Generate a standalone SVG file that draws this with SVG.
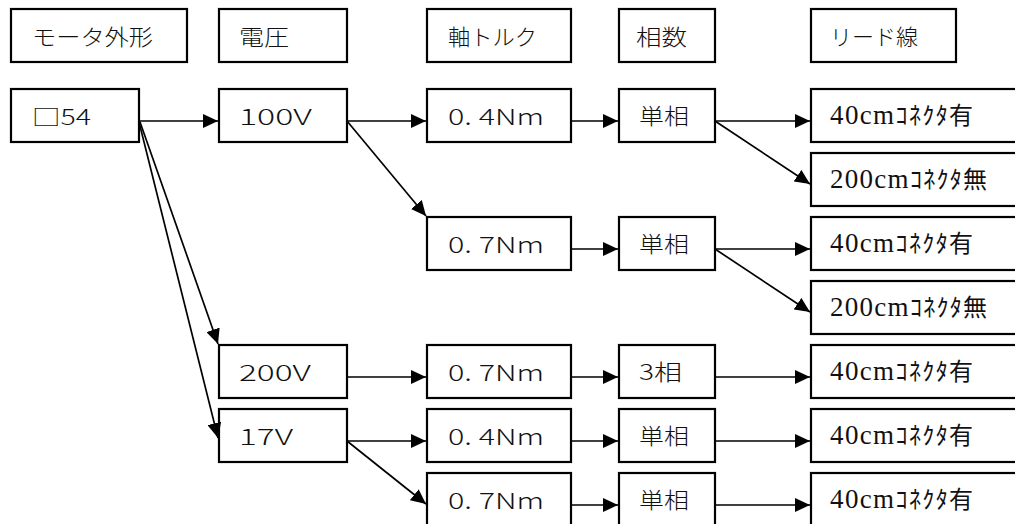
<svg xmlns="http://www.w3.org/2000/svg" width="1015" height="524" viewBox="0 0 1015 524">
<style>
.box{fill:#fff;stroke:#000;stroke-width:2.2}
.t{font-family:"Noto Sans CJK JP","Liberation Sans",sans-serif;font-size:22px;font-weight:300;fill:#111}
.s{font-size:27px;fill:#111}
.s .a{font-family:"Liberation Serif",serif}
.s .k{font-family:"Noto Sans CJK JP",sans-serif;font-size:24px;font-weight:400}
.c line{stroke:#000;stroke-width:1.7;marker-end:url(#ah)}
</style>
<defs>
<marker id="ah" markerUnits="userSpaceOnUse" markerWidth="16" markerHeight="14" refX="15" refY="7" orient="auto">
<path d="M0,0 L15,7 L0,14 z" fill="#000"/>
</marker>
</defs>
<rect width="1015" height="524" fill="#fff"/>
<g id="h1"><rect class="box" x="11" y="9" width="176" height="53"/><text class="t" x="32" y="45" textLength="121" lengthAdjust="spacingAndGlyphs">モータ外形</text></g>
<g id="h2"><rect class="box" x="219" y="9" width="128" height="53"/><text class="t" x="239" y="45" textLength="50" lengthAdjust="spacingAndGlyphs">電圧</text></g>
<g id="h3"><rect class="box" x="427" y="9" width="144" height="53"/><text class="t" x="448" y="45" textLength="89" lengthAdjust="spacingAndGlyphs">軸トルク</text></g>
<g id="h4"><rect class="box" x="619" y="9" width="96" height="53"/><text class="t" x="636" y="45" textLength="51" lengthAdjust="spacingAndGlyphs">相数</text></g>
<g id="h5"><rect class="box" x="811" y="9" width="145" height="53"/><text class="t" x="830" y="45" textLength="88" lengthAdjust="spacingAndGlyphs">リード線</text></g>

<g id="n54"><rect class="box" x="11" y="89" width="128" height="53"/><text class="t" x="32" y="125" textLength="59" lengthAdjust="spacingAndGlyphs">□54</text></g>
<g id="v100"><rect class="box" x="219" y="89" width="128" height="53"/><text class="t" x="239" y="125" textLength="73" lengthAdjust="spacingAndGlyphs">100V</text></g>
<g id="v200"><rect class="box" x="219" y="345" width="128" height="53"/><text class="t" x="239" y="381" textLength="72" lengthAdjust="spacingAndGlyphs">200V</text></g>
<g id="v17"><rect class="box" x="219" y="409" width="128" height="53"/><text class="t" x="239" y="445" textLength="54" lengthAdjust="spacingAndGlyphs">17V</text></g>

<g id="t1"><rect class="box" x="427" y="89" width="144" height="53"/><text class="t" x="448" y="125" textLength="96" lengthAdjust="spacingAndGlyphs">0. 4Nm</text></g>
<g id="t2"><rect class="box" x="427" y="217" width="144" height="53"/><text class="t" x="448" y="253" textLength="96" lengthAdjust="spacingAndGlyphs">0. 7Nm</text></g>
<g id="t3"><rect class="box" x="427" y="345" width="144" height="53"/><text class="t" x="448" y="381" textLength="96" lengthAdjust="spacingAndGlyphs">0. 7Nm</text></g>
<g id="t4"><rect class="box" x="427" y="409" width="144" height="53"/><text class="t" x="448" y="445" textLength="96" lengthAdjust="spacingAndGlyphs">0. 4Nm</text></g>
<g id="t5"><rect class="box" x="427" y="473" width="144" height="53"/><text class="t" x="448" y="509" textLength="96" lengthAdjust="spacingAndGlyphs">0. 7Nm</text></g>

<g id="p1"><rect class="box" x="619" y="89" width="96" height="53"/><text class="t" x="639" y="124" textLength="50" lengthAdjust="spacingAndGlyphs">単相</text></g>
<g id="p2"><rect class="box" x="619" y="217" width="96" height="53"/><text class="t" x="639" y="252" textLength="50" lengthAdjust="spacingAndGlyphs">単相</text></g>
<g id="p3"><rect class="box" x="619" y="345" width="96" height="53"/><text class="t" x="639" y="380" textLength="43" lengthAdjust="spacingAndGlyphs">3相</text></g>
<g id="p4"><rect class="box" x="619" y="409" width="96" height="53"/><text class="t" x="639" y="444" textLength="50" lengthAdjust="spacingAndGlyphs">単相</text></g>
<g id="p5"><rect class="box" x="619" y="473" width="96" height="53"/><text class="t" x="639" y="508" textLength="50" lengthAdjust="spacingAndGlyphs">単相</text></g>

<g id="l1"><rect class="box" x="811" y="89" width="215" height="53"/><text class="s" x="830" y="124" textLength="143" lengthAdjust="spacing"><tspan class="a">40cm</tspan><tspan class="k">ｺﾈｸﾀ有</tspan></text></g>
<g id="l2"><rect class="box" x="811" y="153" width="215" height="53"/><text class="s" x="830" y="188" textLength="157" lengthAdjust="spacing"><tspan class="a">200cm</tspan><tspan class="k">ｺﾈｸﾀ無</tspan></text></g>
<g id="l3"><rect class="box" x="811" y="217" width="215" height="53"/><text class="s" x="830" y="252" textLength="143" lengthAdjust="spacing"><tspan class="a">40cm</tspan><tspan class="k">ｺﾈｸﾀ有</tspan></text></g>
<g id="l4"><rect class="box" x="811" y="281" width="215" height="53"/><text class="s" x="830" y="316" textLength="157" lengthAdjust="spacing"><tspan class="a">200cm</tspan><tspan class="k">ｺﾈｸﾀ無</tspan></text></g>
<g id="l5"><rect class="box" x="811" y="345" width="215" height="53"/><text class="s" x="830" y="380" textLength="143" lengthAdjust="spacing"><tspan class="a">40cm</tspan><tspan class="k">ｺﾈｸﾀ有</tspan></text></g>
<g id="l6"><rect class="box" x="811" y="409" width="215" height="53"/><text class="s" x="830" y="444" textLength="143" lengthAdjust="spacing"><tspan class="a">40cm</tspan><tspan class="k">ｺﾈｸﾀ有</tspan></text></g>
<g id="l7"><rect class="box" x="811" y="473" width="215" height="53"/><text class="s" x="830" y="508" textLength="143" lengthAdjust="spacing"><tspan class="a">40cm</tspan><tspan class="k">ｺﾈｸﾀ有</tspan></text></g>

<g id="connectors" class="c">
<line x1="139" y1="121" x2="218" y2="121"/>
<line x1="140" y1="122" x2="218" y2="344"/>
<line x1="139" y1="122" x2="218" y2="438"/>
<line x1="347" y1="121" x2="426" y2="121"/>
<line x1="347" y1="121" x2="426" y2="216"/>
<line x1="571" y1="121" x2="618" y2="121"/>
<line x1="715" y1="121" x2="810" y2="121"/>
<line x1="715" y1="121" x2="810" y2="184"/>
<line x1="571" y1="249" x2="618" y2="249"/>
<line x1="715" y1="249" x2="810" y2="249"/>
<line x1="715" y1="249" x2="810" y2="312"/>
<line x1="347" y1="377" x2="426" y2="377"/>
<line x1="571" y1="377" x2="618" y2="377"/>
<line x1="715" y1="377" x2="810" y2="377"/>
<line x1="347" y1="441" x2="426" y2="441"/>
<line x1="347" y1="441" x2="426" y2="504"/>
<line x1="571" y1="441" x2="618" y2="441"/>
<line x1="715" y1="441" x2="810" y2="441"/>
<line x1="571" y1="505" x2="618" y2="505"/>
<line x1="715" y1="505" x2="810" y2="505"/>
</g>
</svg>
